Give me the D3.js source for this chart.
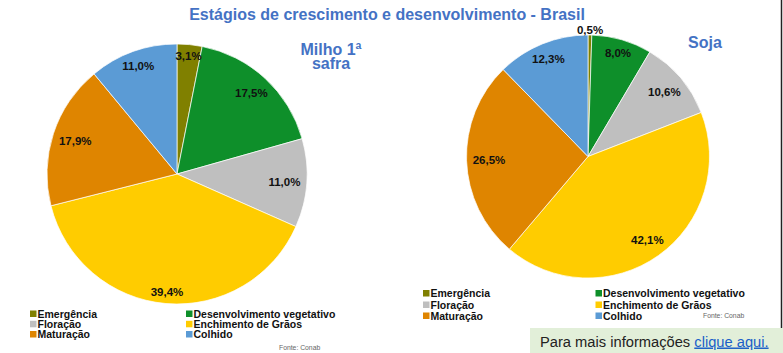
<!DOCTYPE html>
<html>
<head>
<meta charset="utf-8">
<script src="https://cdn.jsdelivr.net/npm/d3@7"></script>
<style>
  html, body { margin: 0; padding: 0; background: #fff; }
  svg { display: block; font-family: "Liberation Sans", Arial, sans-serif; }
</style>
</head>
<body>
<svg id="chart" width="783" height="353"></svg>
<script>
const categories = ["Emergência", "Desenvolvimento vegetativo", "Floração", "Enchimento de Grãos", "Maturação", "Colhido"];
const colors = ["#808000", "#0e8f2a", "#bfbfbf", "#ffcc00", "#df8500", "#5b9bd5"];
const milhoValues = [3.1, 17.5, 11.0, 39.4, 17.9, 11.0];
const sojaValues = [0.5, 8.0, 10.6, 42.1, 26.5, 12.3];
const title = "Estágios de crescimento e desenvolvimento - Brasil";
const source = "Fonte: Conab";

const svg = d3.select("#chart");
const fmt = v => v.toFixed(1).replace(".", ",") + "%";

// Title
svg.append("text")
  .attr("x", 387).attr("y", 20)
  .attr("text-anchor", "middle")
  .attr("font-size", 16).attr("font-weight", "bold")
  .attr("fill", "#4472c4")
  .text(title);

// Right border line
svg.append("line")
  .attr("x1", 781.5).attr("x2", 781.5).attr("y1", 0).attr("y2", 328)
  .attr("stroke", "#222").attr("stroke-width", 1.5);

function drawPie(values, cx, cy, r) {
  const pie = d3.pie().sort(null).value(d => d).startAngle(0).endAngle(2 * Math.PI);
  const arcs = pie(values);
  const arc = d3.arc().innerRadius(0).outerRadius(r);
  const g = svg.append("g").attr("transform", `translate(${cx},${cy})`);
  g.selectAll("path").data(arcs).enter().append("path")
    .attr("d", arc)
    .attr("fill", (d, i) => colors[i])
    .attr("stroke", "#fff").attr("stroke-width", 0.7);

  arcs.forEach(d => {
    const a = (d.startAngle + d.endAngle) / 2;
    const t = g.append("text")
      .attr("text-anchor", "middle")
      .attr("dy", "0.35em")
      .attr("font-size", 11.5).attr("font-weight", "bold")
      .attr("fill", "#111")
      .text(fmt(d.value));
    const w = t.node().getComputedTextLength();
    const h = 9;
    const sx = Math.sin(a), sy = -Math.cos(a);
    const ext = Math.abs(sx) * w / 2 + Math.abs(sy) * h / 2;
    const dist = d.value < 1 ? r + ext + 0.5 : r - 6 - ext;
    t.attr("x", sx * dist).attr("y", sy * dist);
  });
}

drawPie(milhoValues, 177, 174, 130);
drawPie(sojaValues, 588, 156.5, 121.5);

// Pie titles
const mt = svg.append("text")
  .attr("text-anchor", "middle")
  .attr("font-size", 16).attr("font-weight", "bold")
  .attr("fill", "#4472c4");
mt.append("tspan").attr("x", 331).attr("y", 55).text("Milho 1ª");
mt.append("tspan").attr("x", 331).attr("y", 69).text("safra");

svg.append("text")
  .attr("x", 705).attr("y", 48)
  .attr("text-anchor", "middle")
  .attr("font-size", 16).attr("font-weight", "bold")
  .attr("fill", "#4472c4")
  .text("Soja");

// Legends
function drawLegend(x1, x2, rowsY, srcX, srcY) {
  categories.forEach((c, i) => {
    const col = i % 2, row = Math.floor(i / 2);
    const x = col === 0 ? x1 : x2;
    const y = rowsY[row];
    svg.append("rect")
      .attr("x", x).attr("y", y - 3.5)
      .attr("width", 6.5).attr("height", 6.5)
      .attr("fill", colors[i]);
    svg.append("text")
      .attr("x", x + 7.5).attr("y", y + 3.8)
      .attr("font-size", 10.5).attr("font-weight", "bold")
      .attr("fill", "#111")
      .text(c);
  });
  svg.append("text")
    .attr("x", srcX).attr("y", srcY)
    .attr("font-size", 6.8).attr("fill", "#666")
    .text(source);
}

drawLegend(30, 186, [314, 324.3, 334.5], 279, 349.5);
drawLegend(423, 595.5, [293.5, 305, 316], 703, 318);

// Info box
svg.append("rect")
  .attr("x", 530).attr("y", 328).attr("width", 253).attr("height", 25)
  .attr("fill", "#e2efd9");
const info = svg.append("text")
  .attr("x", 540).attr("y", 346.5)
  .attr("font-size", 14.7).attr("fill", "#222");
info.append("tspan").text("Para mais informações ");
info.append("tspan").attr("fill", "#1a5fc8").attr("text-decoration", "underline").text("clique aqui.");
</script>
</body>
</html>
